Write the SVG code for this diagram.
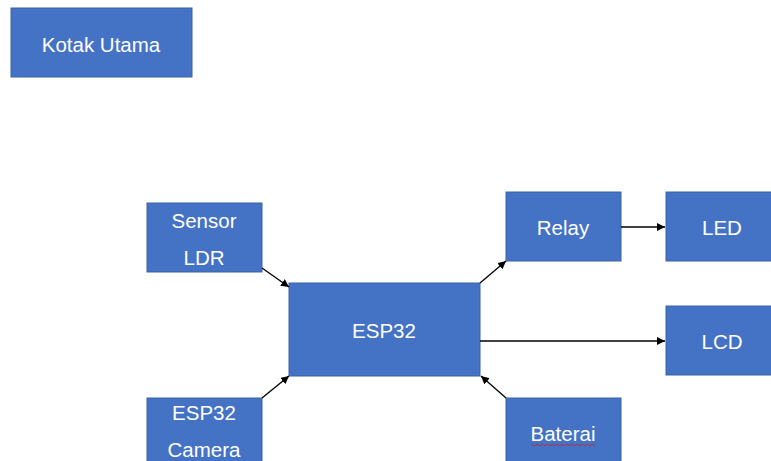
<svg xmlns="http://www.w3.org/2000/svg" width="771" height="461" viewBox="0 0 771 461">
<defs>
<marker id="ah" viewBox="0 0 10 10" refX="10" refY="5" markerWidth="8" markerHeight="8" markerUnits="userSpaceOnUse" orient="auto">
<path d="M0,0 L10,5 L0,10 z" fill="#000"/>
</marker>
<style>
.box{fill:#4472C4;stroke:#3A62A8;stroke-width:1}
.t{font-family:"Liberation Sans",Arial,sans-serif;font-size:20.5px;fill:#fff;text-anchor:middle;dominant-baseline:central}
.c{stroke:#000;stroke-width:1.3;fill:none;marker-end:url(#ah)}
</style>
</defs>
<rect width="771" height="461" fill="#fff"/>
<g id="kotak-utama"><rect class="box" x="11" y="8" width="181" height="69"/><text class="t" x="101" y="44">Kotak Utama</text></g>
<g id="sensor-ldr"><rect class="box" x="147" y="203" width="115" height="69"/><text class="t" x="204" y="220">Sensor</text><text class="t" x="204" y="257">LDR</text></g>
<g id="esp32"><rect class="box" x="289" y="283" width="191" height="93"/><text class="t" x="384" y="330">ESP32</text></g>
<g id="relay"><rect class="box" x="506" y="192" width="115" height="69"/><text class="t" x="563" y="227">Relay</text></g>
<g id="led"><rect class="box" x="666" y="192" width="115" height="69"/><text class="t" x="722" y="227">LED</text></g>
<g id="lcd"><rect class="box" x="666" y="306" width="115" height="69"/><text class="t" x="722" y="341">LCD</text></g>
<g id="esp32-camera"><rect class="box" x="147" y="398" width="115" height="69"/><text class="t" x="204" y="412">ESP32</text><text class="t" x="204" y="449">Camera</text></g>
<g id="baterai"><rect class="box" x="506" y="398" width="115" height="69"/><text class="t" x="563" y="433">Baterai</text><path d="M531,445 q1.25,-1.5 2.5,0 t2.5,0 t2.5,0 t2.5,0 t2.5,0 t2.5,0 t2.5,0 t2.5,0 t2.5,0 t2.5,0 t2.5,0 t2.5,0 t2.5,0 t2.5,0 t2.5,0 t2.5,0 t2.5,0 t2.5,0 t2.5,0 t2.5,0 t2.5,0 t2.5,0 t2.5,0 t2.5,0 t2.5,0 t2.5,0" fill="none" stroke="#d02020" stroke-width="0.8"/></g>
<g id="connectors">
<line class="c" x1="262" y1="268" x2="289" y2="287"/>
<line class="c" x1="262" y1="398" x2="289" y2="376"/>
<line class="c" x1="480" y1="283" x2="506" y2="261"/>
<line class="c" x1="621" y1="227" x2="665" y2="227"/>
<line class="c" x1="480" y1="341" x2="665" y2="341"/>
<line class="c" x1="506" y1="398" x2="481" y2="376"/>
</g>
</svg>
